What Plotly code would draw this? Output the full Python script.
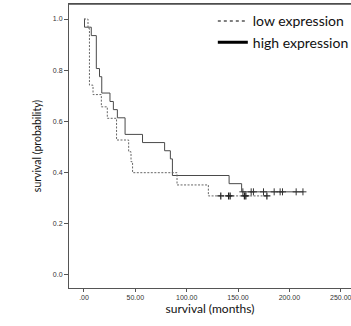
import plotly.graph_objects as go

# Kaplan-Meier estimates (months, survival probability)
high_times = [0.5, 7.1, 12.0, 15.1, 17.3, 25.3, 28.6, 32.5, 40.0, 57.0, 78.5, 84.1, 86.1, 141.3, 153.5]
high_surv = [0.968, 0.935, 0.806, 0.774, 0.710, 0.677, 0.645, 0.613, 0.548, 0.516, 0.484, 0.452, 0.387, 0.355, 0.323]
high_end = 213.5
high_censored = [154.7, 162.8, 165.0, 174.8, 185.2, 191.0, 193.3, 206.6, 213.2]

low_times = [3.9, 5.3, 8.8, 16.9, 22.7, 31.7, 43.5, 45.8, 47.3, 90.6, 121.1]
low_surv = [0.963, 0.741, 0.704, 0.656, 0.611, 0.526, 0.480, 0.441, 0.398, 0.350, 0.307]
low_end = 178.5
low_censored = [133.2, 140.8, 142.3, 156.2, 157.6, 178.1]

x_ticks = [0, 50, 100, 150, 200, 250]
x_tick_labels = [".00", "50.00", "100.00", "150.00", "200.00", "250.00"]
y_ticks = [0.0, 0.2, 0.4, 0.6, 0.8, 1.0]
y_tick_labels = ["0.0", "0.2", "0.4", "0.6", "0.8", "1.0"]

series_names = ["low expression", "high expression"]


def step_path(times, surv, end):
    xs = [0.0] + list(times) + [end]
    ys = [1.0] + list(surv) + [surv[-1]]
    return xs, ys


def surv_at(t, times, surv):
    s = 1.0
    for ti, si in zip(times, surv):
        if ti <= t:
            s = si
    return s


fig = go.Figure()

hx, hy = step_path(high_times, high_surv, high_end)
lx, ly = step_path(low_times, low_surv, low_end)

fig.add_trace(go.Scatter(x=hx, y=hy, mode="lines", line_shape="hv",
                         line=dict(color="#4a4a4a", width=1), showlegend=False))
fig.add_trace(go.Scatter(x=lx, y=ly, mode="lines", line_shape="hv",
                         line=dict(color="#666666", width=1, dash="2px,1.5px"),
                         showlegend=False))

# censoring ticks
fig.add_trace(go.Scatter(
    x=high_censored, y=[surv_at(t, high_times, high_surv) for t in high_censored],
    mode="markers", marker=dict(symbol="cross-thin", size=5, line=dict(color="#333333", width=1)),
    showlegend=False))
fig.add_trace(go.Scatter(
    x=low_censored, y=[surv_at(t, low_times, low_surv) for t in low_censored],
    mode="markers", marker=dict(symbol="cross-thin", size=5, line=dict(color="#222222", width=1.2)),
    showlegend=False))

# legend entries
fig.add_trace(go.Scatter(x=[None], y=[None], mode="lines", name=series_names[0],
                         line=dict(color="#000000", width=1.2, dash="dot")))
fig.add_trace(go.Scatter(x=[None], y=[None], mode="lines", name=series_names[1],
                         line=dict(color="#000000", width=3)))

fig.update_layout(
    width=351, height=326,
    margin=dict(l=69, r=0, t=4, b=38, autoexpand=False),
    paper_bgcolor="white", plot_bgcolor="white",
    font=dict(family="Lato, Liberation Sans, sans-serif", color="#222222"),
    legend=dict(x=0.51, y=0.995, xanchor="left", yanchor="top",
                bgcolor="rgba(0,0,0,0)", font=dict(size=14, color="#111111"),
                tracegroupgap=0, itemwidth=30),
    showlegend=True,
    # top frame line
    shapes=[dict(type="line", xref="paper", yref="paper", x0=0, x1=1, y0=1, y1=1,
                 layer="above", line=dict(color="#4d4d4d", width=1.5))],
)

fig.update_xaxes(
    range=[-14.6, 260.0], tickvals=x_ticks, ticktext=x_tick_labels,
    showgrid=False, zeroline=False, showline=True, linecolor="#555555", linewidth=1,
    mirror=True, ticks="outside", ticklen=3, tickcolor="#555555",
    ticklabeloverflow="allow", automargin=False,
    tickfont=dict(family="Liberation Sans, Arial, sans-serif", size=7, color="#333333"),
    title=dict(text="survival (months)", font=dict(size=12, color="#111111"), standoff=4),
)
fig.update_yaxes(
    range=[-0.0537, 1.0588], tickvals=y_ticks, ticktext=y_tick_labels,
    showgrid=False, zeroline=False, showline=True, linecolor="#555555", linewidth=1,
    mirror=False, ticks="outside", ticklen=4, tickcolor="#555555", automargin=False,
    tickfont=dict(family="Liberation Sans, Arial, sans-serif", size=7, color="#333333"),
    title=dict(text="survival (probability)", font=dict(size=10.5, color="#111111"), standoff=9),
)

fig.write_html("out.html")
